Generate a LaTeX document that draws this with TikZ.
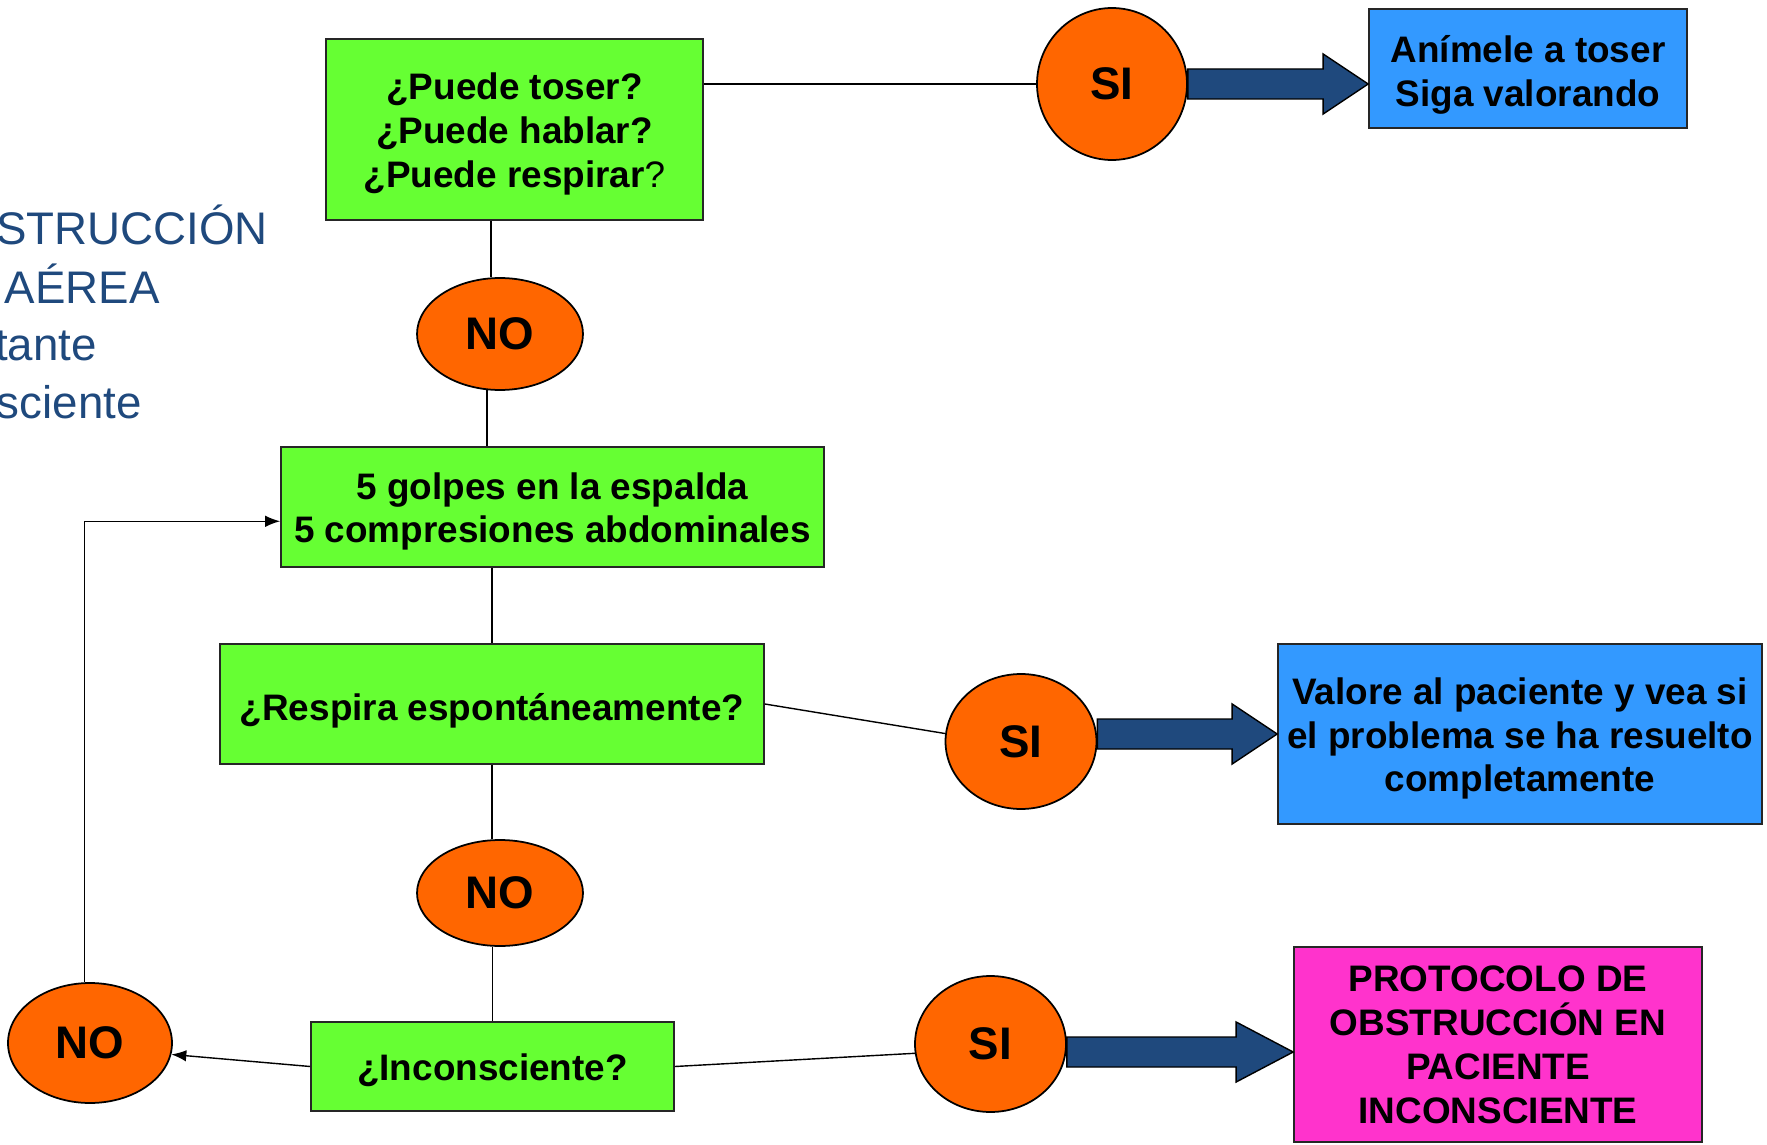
\documentclass[tikz,border=0pt]{standalone}
\usepackage{fontspec}
\setmainfont{Liberation Sans}
\usetikzlibrary{arrows.meta,shapes.geometric,calc}
\definecolor{verde}{RGB}{102,255,51}
\definecolor{naranja}{RGB}{255,102,0}
\definecolor{azul}{RGB}{51,153,255}
\definecolor{rosa}{RGB}{255,51,204}
\definecolor{marino}{RGB}{31,73,125}
\tikzset{
    pregunta/.style={draw=black!85,line width=1pt,fill=verde,align=center,inner sep=0pt,
        font=\bfseries\fontsize{21}{25}\selectfont},
    respuesta/.style={pregunta,fill=azul},
    sino/.style={ellipse,draw=black,line width=1pt,fill=naranja,inner sep=0pt,
        font=\bfseries\fontsize{26}{30}\selectfont},
    titulo/.style={text=marino,font=\fontsize{26}{30}\selectfont,anchor=base east,inner sep=0pt},
    linea/.style={black,line width=0.8pt},
    flecha/.style={linea,-{Latex[length=8.5pt,width=6.5pt]}},
    gorda/.style={fill=marino,draw=black,line width=0.8pt,line join=miter}
}
% baja un poco el texto de las cajas
\newcommand{\alto}[1]{\rule{0pt}{#1pt}}
% flecha ancha: #1 inicio, #2 punta, #3 largo de la cabeza
\newcommand{\flechagorda}[3]{%
    \filldraw [gorda] ($(#1)+(0,-15)$) -- ($(#2)+(-#3,-15)$) -- ($(#2)+(-#3,-30)$) -- (#2)
        -- ($(#2)+(-#3,30)$) -- ($(#2)+(-#3,15)$) -- ($(#1)+(0,15)$) -- cycle;}
\begin{document}
\begin{tikzpicture}[x=0.02cm,y=-0.02cm]
    \useasboundingbox (0,0) rectangle (1767,1145);
    % titulo cortado
    \node [titulo] (tit1) at (268,245) {STRUCCIÓN};
    \node [titulo] (tit2) at (160,304) {AÉREA};
    \node [titulo] (tit3) at (97,360) {tante};
    \node [titulo] (tit4) at (142,418) {sciente};
    % cajas
    \node [pregunta,minimum width=7.54cm,minimum height=3.62cm] (q1) at (514.5,129.5)
        {\alto{20.4}¿Puede toser?\\¿Puede hablar?\\¿Puede respirar{\mdseries ?}};
    \node [pregunta,minimum width=10.86cm,minimum height=2.4cm] (q2) at (552.5,507)
        {\alto{20.3}5 golpes en la espalda\\5 compresiones abdominales};
    \node [pregunta,minimum width=10.88cm,minimum height=2.4cm] (q3) at (492,704)
        {\alto{23.4}¿Respira espontáneamente?};
    \node [pregunta,minimum width=7.26cm,minimum height=1.78cm] (q4) at (492.5,1066.5)
        {\alto{19.5}¿Inconsciente?};
    \node [respuesta,minimum width=6.36cm,minimum height=2.38cm] (r1) at (1528,68.5)
        {\alto{22.5}Anímele a toser\\Siga valorando};
    \node [respuesta,minimum width=9.68cm,minimum height=3.6cm] (r2) at (1520,734)
        {\alto{20.3}Valore al paciente y vea si\\el problema se ha resuelto\\completamente};
    \node [respuesta,fill=rosa,minimum width=8.16cm,minimum height=3.9cm] (r3) at (1498,1044.5)
        {PROTOCOLO DE\\OBSTRUCCIÓN EN\\PACIENTE\\INCONSCIENTE};
    % si / no
    \node [sino,minimum width=3cm,minimum height=3.04cm] (si1) at (1112,84) {SI};
    \node [sino,minimum width=3.02cm,minimum height=2.7cm] (si2) at (1021,741.5) {SI};
    \node [sino,minimum width=3.02cm,minimum height=2.72cm] (si3) at (990.5,1044) {SI};
    \node [sino,minimum width=3.32cm,minimum height=2.24cm] (no1) at (500,334) {NO};
    \node [sino,minimum width=3.32cm,minimum height=2.12cm] (no2) at (500,893) {NO};
    \node [sino,minimum width=3.28cm,minimum height=2.4cm] (no3) at (90,1043) {NO};
    % conexiones
    \draw [linea] (q1.east |- si1.west) -- (si1.west);
    \draw [linea] (q1.south -| no1.99) -- (no1.99);
    \draw [linea] (no1.257) -- (no1.257 |- q2.north);
    \draw [linea] (q2.south -| q3.north) -- (q3.north);
    \draw [linea] (q3.east) -- (si2.174);
    \draw [linea] (q3.south) -- (q3.south |- no2.north);
    \draw [linea] (no2.south -| q4.north) -- (q4.north);
    \draw [linea] (q4.east) -- (si3.187);
    \draw [flecha] (q4.west) -- (no3.352);
    \draw [flecha] (no3.95) |- (q2.183);
    % flechas anchas
    \coordinate (p1) at (r1.west |- si1.east);
    \coordinate (s2) at (si2.east |- r2.west);
    \coordinate (s3) at ($(si3.east)+(0,8)$);
    \coordinate (p3) at (r3.west |- s3);
    \flechagorda{si1.east}{p1}{45}
    \flechagorda{s2}{r2.west}{45}
    \flechagorda{s3}{p3}{57}
\end{tikzpicture}
\end{document}
